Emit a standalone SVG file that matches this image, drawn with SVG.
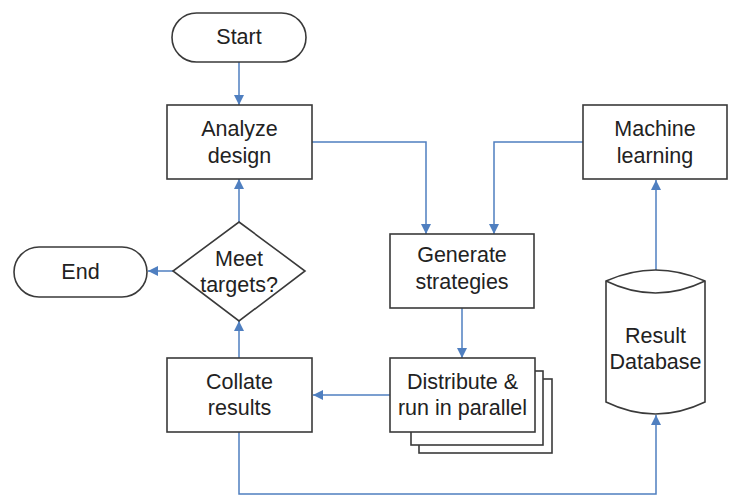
<svg xmlns="http://www.w3.org/2000/svg" width="733" height="495" viewBox="0 0 733 495">
  <style>
    .shape { fill: #ffffff; stroke: #3a3a3a; stroke-width: 1.6; }
    .label { font-family: "Liberation Sans", Arial, sans-serif; font-size: 21.5px; fill: #222222; text-anchor: middle; }
    .link { fill: none; stroke: #4f7fc0; stroke-width: 1.5; }
  </style>
  <defs>
    <marker id="arrow" viewBox="0 0 10 10" refX="10" refY="5" markerWidth="10" markerHeight="10" markerUnits="userSpaceOnUse" orient="auto">
      <path d="M0,0 L10,5 L0,10 Z" fill="#4f7fc0"/>
    </marker>
  </defs>
  <rect width="733" height="495" fill="#ffffff"/>

  <g id="connectors">
    <path class="link" d="M239,62 V105" marker-end="url(#arrow)"/>
    <path class="link" d="M239,222 V179" marker-end="url(#arrow)"/>
    <path class="link" d="M173,271 H148" marker-end="url(#arrow)"/>
    <path class="link" d="M239,358 V321" marker-end="url(#arrow)"/>
    <path class="link" d="M312,142 H426 V234" marker-end="url(#arrow)"/>
    <path class="link" d="M583,142 H494 V234" marker-end="url(#arrow)"/>
    <path class="link" d="M462,308 V358" marker-end="url(#arrow)"/>
    <path class="link" d="M390,395 H313" marker-end="url(#arrow)"/>
    <path class="link" d="M656,270 V180" marker-end="url(#arrow)"/>
    <path class="link" d="M239,432 V494 H656 V415" marker-end="url(#arrow)"/>
  </g>

  <g id="start">
    <rect class="shape" x="172" y="13" width="134" height="49" rx="24.5"/>
    <text class="label" x="239" y="44">Start</text>
  </g>

  <g id="analyze">
    <rect class="shape" x="167" y="105" width="145" height="74"/>
    <text class="label" x="239.5" y="136">Analyze</text>
    <text class="label" x="239.5" y="163">design</text>
  </g>

  <g id="decision">
    <polygon class="shape" points="239,222 305,271 239,321 173,271"/>
    <text class="label" x="239" y="266">Meet</text>
    <text class="label" x="239" y="292">targets?</text>
  </g>

  <g id="end">
    <rect class="shape" x="14" y="247" width="133" height="50" rx="25"/>
    <text class="label" x="80.5" y="279">End</text>
  </g>

  <g id="collate">
    <rect class="shape" x="167" y="358" width="145" height="74"/>
    <text class="label" x="239.5" y="389">Collate</text>
    <text class="label" x="239.5" y="415">results</text>
  </g>

  <g id="generate">
    <rect class="shape" x="390" y="234" width="144" height="74"/>
    <text class="label" x="462" y="262">Generate</text>
    <text class="label" x="462" y="289">strategies</text>
  </g>

  <g id="distribute">
    <rect class="shape" x="419" y="379" width="133" height="74"/>
    <rect class="shape" x="411" y="371" width="132" height="74"/>
    <rect class="shape" x="390" y="358" width="145" height="74"/>
    <text class="label" x="462.5" y="389">Distribute &amp;</text>
    <text class="label" x="462.5" y="415">run in parallel</text>
  </g>

  <g id="machine-learning">
    <rect class="shape" x="583" y="105" width="144" height="74"/>
    <text class="label" x="655" y="136">Machine</text>
    <text class="label" x="655" y="163">learning</text>
  </g>

  <g id="result-database">
    <path class="shape" d="M606,281 Q655.5,259 705,281 V402 Q655.5,426 606,402 Z"/>
    <path class="shape" fill="none" d="M606,281 Q655.5,305 705,281"/>
    <text class="label" x="655.5" y="343">Result</text>
    <text class="label" x="655.5" y="369">Database</text>
  </g>
</svg>
